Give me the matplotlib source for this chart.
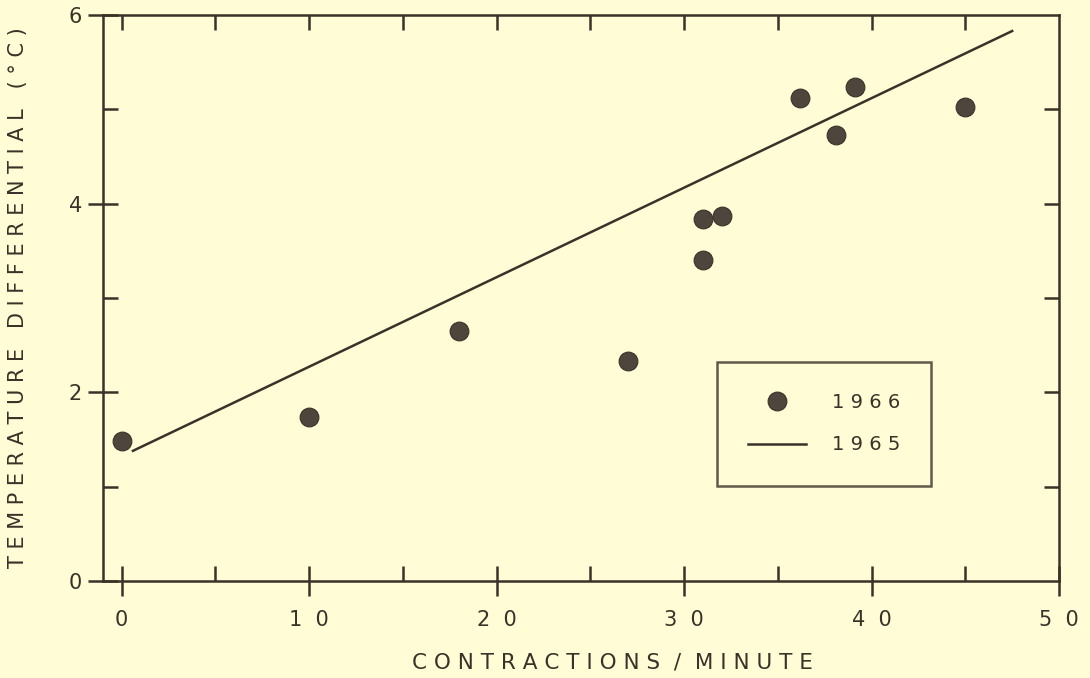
import matplotlib
matplotlib.use("Agg")
import matplotlib.pyplot as plt
import numpy as np

# 1966 measurements
rate_1966 = [0, 10, 18, 27, 31, 31, 32, 36.2, 38.1, 39.1, 45]
temp_1966 = [1.48, 1.74, 2.65, 2.33, 3.40, 3.84, 3.87, 5.12, 4.73, 5.24, 5.02]

# 1965 fitted line (end points)
rate_1965 = [0.6, 47.5]
temp_1965 = [1.38, 5.83]

xticks = [0, 10, 20, 30, 40, 50]
xtick_labels = ["0", "1  0", "2  0", "3  0", "4  0", "5  0"]
yticks = [0, 2, 4, 6]
ytick_labels = ["0", "2", "4", "6"]

paper = "#fffcd6"
ink = "#3a3128"
dot = "#4e463d"

plt.rcParams["font.family"] = ["DejaVu Sans"]

fig = plt.figure(figsize=(10.9, 6.78), dpi=100, facecolor=paper)
ax = fig.add_axes([103 / 1090, 97 / 678, 956 / 1090, 566 / 678])
ax.set_facecolor(paper)

ax.plot(rate_1965, temp_1965, color=ink, lw=1.8, label="1 9 6 5", zorder=2)
ax.plot(rate_1966, temp_1966, "o", ms=13.5, color=dot, mec=ink, mew=0.8,
        label="1 9 6 6", zorder=3)

ax.set_xlim(-1, 50)
ax.set_ylim(0, 6)

for s in ax.spines.values():
    s.set_color(ink)
    s.set_linewidth(1.8)

ax.set_xticks(xticks)
ax.set_xticklabels(xtick_labels)
ax.set_xticks(np.arange(5, 50, 10), minor=True)
ax.set_yticks(yticks)
ax.set_yticks([1, 3, 5], minor=True)
ax.set_yticklabels(ytick_labels)

ax.tick_params(which="major", direction="inout", length=22, width=1.8,
               color=ink, labelcolor=ink, labelsize=15)
ax.tick_params(axis="x", which="major", pad=10)
ax.tick_params(axis="y", which="major", pad=4)
ax.tick_params(which="minor", direction="in", length=11, width=1.8, color=ink)

# inward ticks along the top and right edges
top = ax.secondary_xaxis("top")
top.set_xticks(np.arange(0, 50, 5))
top.tick_params(direction="in", length=11, width=1.8, color=ink, labeltop=False)
top.spines["top"].set_visible(False)
right = ax.secondary_yaxis("right")
right.set_yticks([1, 2, 3, 4, 5])
right.tick_params(direction="in", length=11, width=1.8, color=ink, labelright=False)
right.spines["right"].set_visible(False)

fig.text(612 / 1090, 1 - 662 / 678, "C O N T R A C T I O N S  /  M I N U T E",
         ha="center", va="center", fontsize=15.5, color=ink)
fig.text(18 / 1090, 1 - 298 / 678,
         "T E M P E R A T U R E   D I F F E R E N T I A L   ( ° C )",
         ha="center", va="center", rotation=90, fontsize=15, color=ink)

handles, labels = ax.get_legend_handles_labels()
leg = ax.legend(handles[::-1], labels[::-1], loc="upper left",
                bbox_to_anchor=(717 / 1090, 1 - 362 / 678),
                bbox_transform=fig.transFigure,
                fancybox=False, frameon=True, fontsize=14,
                handlelength=3.0, handletextpad=1.3, labelspacing=1.2,
                borderpad=1.6, borderaxespad=0)
leg.get_frame().set_edgecolor(ink)
leg.get_frame().set_linewidth(1.8)
leg.get_frame().set_facecolor(paper)
for t in leg.get_texts():
    t.set_color(ink)

fig.savefig("out.png", dpi=100, facecolor=paper)
